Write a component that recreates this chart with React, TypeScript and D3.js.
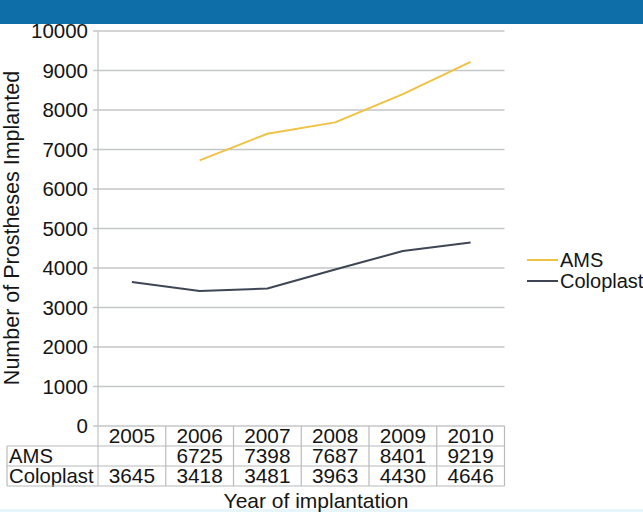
import React from "react";
import * as d3 from "d3";

const years = ["2005", "2006", "2007", "2008", "2009", "2010"];
const amsValues: (number | null)[] = [null, 6725, 7398, 7687, 8401, 9219];
const coloplastValues: (number | null)[] = [3645, 3418, 3481, 3963, 4430, 4646];
const yTicks = [0, 1000, 2000, 3000, 4000, 5000, 6000, 7000, 8000, 9000, 10000];
const seriesNames = ["AMS", "Coloplast"];
const seriesColors = ["#f0c243", "#3e4656"];

const W = 643;
const H = 512;
const FONT = "'Liberation Sans', Arial, Helvetica, sans-serif";

export default function App() {
  const x = d3.scaleBand<string>().domain(years).range([98, 504.5]).padding(0);
  const y = d3.scaleLinear().domain([0, 10000]).range([426, 31]);
  const series = [amsValues, coloplastValues];

  const line = d3
    .line<number | null>()
    .defined((d) => d !== null)
    .x((_, i) => (x(years[i]) as number) + x.bandwidth() / 2)
    .y((d) => y(d as number));

  const rowH = 20;
  const tableTop = y(0);
  const tableLeft = 7;
  const tableRight = x.range()[1];
  const rows = [
    { label: "", values: years as (string | number | null)[] },
    { label: seriesNames[0], values: amsValues },
    { label: seriesNames[1], values: coloplastValues },
  ];
  const gridColor = "#c4c6c8";
  const tableColor = "#b8babc";
  const textColor = "#151515";

  return (
    <svg
      width={W}
      height={H}
      style={{ position: "absolute", left: 0, top: 0, background: "#fff" }}
      fontFamily={FONT}
    >
      <rect x={0} y={0} width={W} height={24} fill="#0d6ea8" />
      <rect x={0} y={509} width={W} height={3} fill="#e6f6fc" />

      {/* gridlines + y ticks */}
      {yTicks.map((t) => (
        <g key={t}>
          <line x1={93} x2={tableRight} y1={y(t)} y2={y(t)} stroke={gridColor} strokeWidth={1.3} />
          <text x={88} y={y(t)} dy="0.36em" textAnchor="end" fontSize={20.5} fill={textColor}>
            {t}
          </text>
        </g>
      ))}
      <line x1={98} x2={98} y1={y(10000)} y2={tableTop + rowH * 3} stroke={gridColor} strokeWidth={1.3} />

      {/* table */}
      {rows.map((r, ri) => {
        const top = tableTop + ri * rowH;
        return (
          <g key={ri}>
            {ri > 0 && (
              <text x={9} y={top + rowH / 2} dy="0.36em" fontSize={20.3} fill={textColor}>
                {r.label}
              </text>
            )}
            {r.values.map((v, i) =>
              v === null ? null : (
                <text
                  key={i}
                  x={(x(years[i]) as number) + x.bandwidth() / 2}
                  y={top + rowH / 2}
                  dy="0.36em"
                  textAnchor="middle"
                  fontSize={20.8}
                  fill={textColor}
                >
                  {v}
                </text>
              )
            )}
          </g>
        );
      })}
      {[1, 2, 3].map((k) => (
        <line
          key={k}
          x1={tableLeft}
          x2={tableRight}
          y1={tableTop + k * rowH}
          y2={tableTop + k * rowH}
          stroke={tableColor}
          strokeWidth={1.2}
        />
      ))}
      <line x1={tableLeft} x2={tableLeft} y1={tableTop + rowH} y2={tableTop + 3 * rowH} stroke={tableColor} strokeWidth={1.2} />
      {years.map((yr) => (
        <line
          key={yr}
          x1={(x(yr) as number) + x.bandwidth()}
          x2={(x(yr) as number) + x.bandwidth()}
          y1={tableTop}
          y2={tableTop + 3 * rowH}
          stroke={tableColor}
          strokeWidth={1.2}
        />
      ))}

      {/* lines */}
      {series.map((s, i) => (
        <path key={i} d={line(s) || ""} fill="none" stroke={seriesColors[i]} strokeWidth={2} strokeLinejoin="round" />
      ))}

      {/* legend */}
      {seriesNames.map((n, i) => (
        <g key={n}>
          <line x1={527} x2={558} y1={260 + i * 21} y2={260 + i * 21} stroke={seriesColors[i]} strokeWidth={2} />
          <text x={560} y={260 + i * 21} dy="0.36em" fontSize={20} fill={textColor}>
            {n}
          </text>
        </g>
      ))}

      {/* axis titles */}
      <text
        transform={`translate(19, ${228}) rotate(-90)`}
        textAnchor="middle"
        fontSize={21.5}
        fill={textColor}
      >
        Number of Prostheses Implanted
      </text>
      <text x={316} y={508} textAnchor="middle" fontSize={21} fill={textColor}>
        Year of implantation
      </text>
    </svg>
  );
}
